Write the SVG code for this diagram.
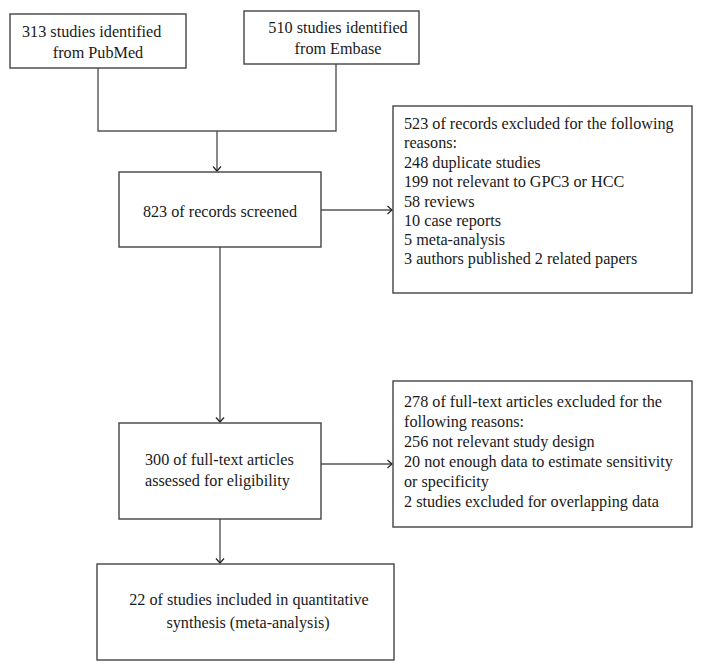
<svg xmlns="http://www.w3.org/2000/svg" width="702" height="671" viewBox="0 0 702 671">
<style>
.box{fill:#fff;stroke:#444;stroke-width:1.4}
.t{font-family:"Liberation Serif","Times New Roman",serif;font-size:16.2px;fill:#1a1a1a}
.c{text-anchor:middle}
.ln{fill:none;stroke:#555;stroke-width:1.4}
</style>
<defs>
<marker id="ah" markerUnits="userSpaceOnUse" viewBox="-6 -5 7 10" markerWidth="7" markerHeight="10" refX="0" refY="0" orient="auto">
<path d="M-4.5,-4 L0,0 L-4.5,4" fill="none" stroke="#222" stroke-width="1.2"/>
</marker>
</defs>
<rect width="702" height="671" fill="#fff"/>
<g id="connectors">
<path class="ln" d="M98,68 V131 H336 V64"/>
<path class="ln" d="M217,131 V171" marker-end="url(#ah)"/>
<path class="ln" d="M321,210 H392" marker-end="url(#ah)"/>
<path class="ln" d="M220,247 V422" marker-end="url(#ah)"/>
<path class="ln" d="M321,464 H392" marker-end="url(#ah)"/>
<path class="ln" d="M220,519 V563" marker-end="url(#ah)"/>
</g>
<g id="pubmed">
<rect class="box" x="10" y="14" width="176" height="54"/>
<text class="t" x="22" y="37">313 studies identified</text>
<text class="t c" x="98" y="58">from PubMed</text>
</g>
<g id="embase">
<rect class="box" x="244" y="11" width="175" height="53"/>
<text class="t c" x="338" y="33">510 studies identified</text>
<text class="t c" x="338" y="54">from Embase</text>
</g>
<g id="screened">
<rect class="box" x="119" y="172" width="202" height="75"/>
<text class="t c" x="220" y="217">823 of records screened</text>
</g>
<g id="excluded1">
<rect class="box" x="393" y="106" width="299" height="187"/>
<text class="t" x="404" y="129">523 of records excluded for the following</text>
<text class="t" x="404" y="148">reasons:</text>
<text class="t" x="404" y="168">248 duplicate studies</text>
<text class="t" x="404" y="187">199 not relevant to GPC3 or HCC</text>
<text class="t" x="404" y="207">58 reviews</text>
<text class="t" x="404" y="226">10 case reports</text>
<text class="t" x="404" y="245">5 meta-analysis</text>
<text class="t" x="404" y="264">3 authors published 2 related papers</text>
</g>
<g id="fulltext">
<rect class="box" x="119" y="423" width="202" height="96"/>
<text class="t" x="145" y="465">300 of full-text articles</text>
<text class="t" x="145" y="486">assessed for eligibility</text>
</g>
<g id="excluded2">
<rect class="box" x="393" y="381" width="299" height="146"/>
<text class="t" x="404" y="407">278 of full-text articles excluded for the</text>
<text class="t" x="404" y="427">following reasons:</text>
<text class="t" x="404" y="447">256 not relevant study design</text>
<text class="t" x="404" y="467">20 not enough data to estimate sensitivity</text>
<text class="t" x="404" y="487">or specificity</text>
<text class="t" x="404" y="507">2 studies excluded for overlapping data</text>
</g>
<g id="included">
<rect class="box" x="97" y="564" width="297" height="96"/>
<text class="t c" x="249" y="605">22 of studies included in quantitative</text>
<text class="t c" x="248" y="628">synthesis (meta-analysis)</text>
</g>
</svg>
